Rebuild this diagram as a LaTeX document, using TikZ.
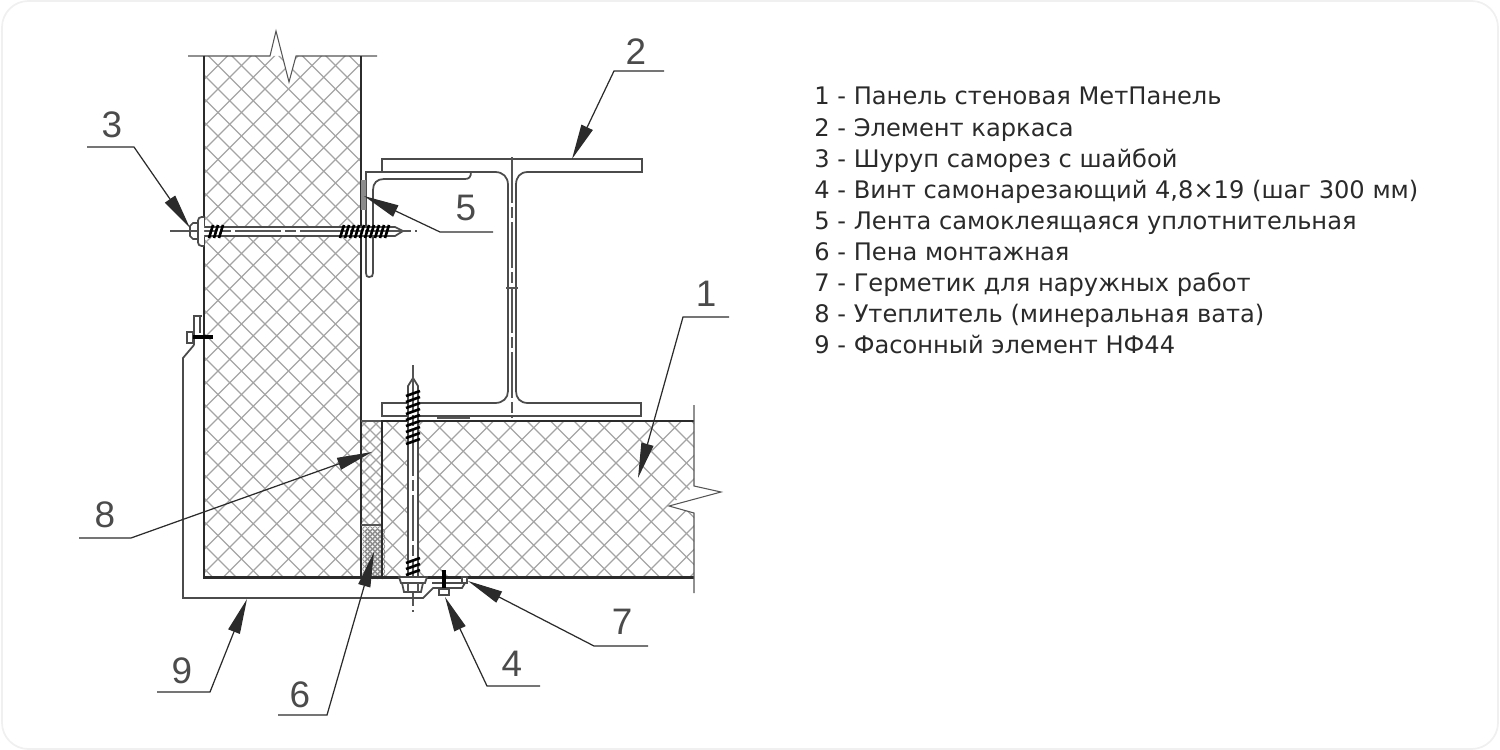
\documentclass[tikz,border=0pt]{standalone}
\usepackage{fontspec}
\setmainfont{DejaVu Sans}
\newfontfamily\calloutfont{Liberation Sans}
\usetikzlibrary{arrows.meta}
\definecolor{inkcolor}{HTML}{2B2B2B}
\definecolor{hatchcolor}{HTML}{A4A4A4}
\definecolor{textcolor}{HTML}{2A2A2A}
\newcommand{\hatchfield}[3]{
	\foreach \k in {-45,...,45} {
		\draw[hatchline] ({#1+\k*#3-900},900) -- ({#1+\k*#3},0);
		\draw[hatchline] ({#2+\k*#3},0) -- ({#2+\k*#3+900},900);
	}
}
\tikzset{
	wall/.style={line width=1.7pt,color=inkcolor},
	profile/.style={line width=1pt,color=inkcolor!85},
	hairline/.style={line width=0.6pt,color=inkcolor!80},
	hatchline/.style={line width=0.75pt,color=hatchcolor},
	thread/.style={line width=1.5pt,color=black},
	axisline/.style={line width=0.6pt,color=inkcolor!80,dash pattern=on 26pt off 2.5pt on 6pt off 2.5pt},
	leader/.style={line width=0.7pt,color=inkcolor,-{Triangle[length=20pt,width=7pt]}},
	callout/.style={font=\calloutfont\fontsize{21}{21}\selectfont,color=inkcolor!85,inner sep=0pt},
	legend/.style={anchor=base west,inner sep=0pt,font=\fontsize{13.74}{16}\selectfont,color=textcolor}
}
\begin{document}
\begin{tikzpicture}[x=0.02cm,y=-0.02cm]
	\useasboundingbox (0,0) rectangle (1500,750);
	\draw[color=black!6,line width=1pt,rounded corners=15pt] (2,1) rectangle (1498,749);
	\begin{scope}
		\clip (204,56) -- (282,56) -- (289,82) -- (296,56) -- (361,56) -- (361,577) -- (204,577) -- cycle;
		\hatchfield{448}{82}{23.5}
	\end{scope}
	\begin{scope}
		\clip (382,421) -- (694,421) -- (694,486) -- (669,506) -- (694,513) -- (694,577) -- (382,577) -- cycle;
		\hatchfield{938}{-35}{23.5}
	\end{scope}
	\begin{scope}
		\clip (361,421) rectangle (382,525);
		\hatchfield{800}{-60}{12}
	\end{scope}
	\foreach \r in {0,...,9} {
		\foreach \k in {0,...,3} {
			\draw[hairline,line width=0.45pt,color=inkcolor!55] (365+\k*5,529+\r*5) circle (2.3);
			\draw[hairline,line width=0.45pt,color=inkcolor!55] (367.5+\k*5,531.5+\r*5) circle (2.3);
		}
	}
	% panels
	\draw[hairline] (188,56) -- (270,56) -- (276,31) -- (289,82) -- (296,56) -- (377,56);
	\draw[wall] (204,56) -- (204,577) -- (361,577) -- (361,56);
	\draw[hairline] (361,421) -- (382,421);
	\draw[hairline] (361,525) -- (382,525);
	\draw[wall] (694,421) -- (382,421) -- (382,577) -- (694,577);
	\draw[wall] (361,577) -- (382,577);
	\draw[hairline] (694,405) -- (694,486) -- (721,492) -- (669,506) -- (694,513) -- (694,593);
	% beam
	\draw[profile] (495,172) -- (382,172) -- (382,159) -- (642,159) -- (642,172) -- (528,172) .. controls (520,172) and (516,177) .. (516,185) -- (516,391) .. controls (516,398) and (520,403) .. (528,403) -- (641,403) -- (641,416) -- (382,416) -- (382,403) -- (495,403) .. controls (503,403) and (508,398) .. (508,391) -- (508,185) .. controls (508,177) and (503,172) .. (495,172);
	\draw[axisline] (512,157) -- (512,418);
	\draw[hairline] (506,288) -- (518,288);
	\draw[hairline] (437,418) -- (470,418);
	% bracket
	\draw[profile] (382,172) -- (366,172) -- (366,273) .. controls (366,276) and (367,277) .. (369,277) .. controls (372,277) and (373,276) .. (373,273) -- (373,190) .. controls (373,183) and (377,179) .. (384,179) -- (465,179) .. controls (469,179) and (471,177) .. (471,172);
	\fill[hatchcolor!85!black] (361,180) rectangle (366,210);
	% screw three
	\fill[white] (204,227) rectangle (395,236);
	\draw[profile] (204,227) -- (395,227) -- (403,231) -- (395,236) -- (204,236);
	\draw[axisline] (170,231) -- (417,231);
	\draw[profile,fill=white] (190,226) -- (193,223) -- (198,223) -- (198,239) -- (193,239) -- (190,236) -- cycle;
	\draw[hairline] (190,231) -- (198,231);
	\draw[profile,fill=white,rounded corners=2pt] (204,217) -- (198,217) -- (198,246) -- (204,246);
	\foreach \x in {209,214,...,219} {
		\draw[thread] (\x,238) -- (\x+4,225);
	}
	\foreach \x in {340,345,...,385} {
		\draw[thread] (\x,238) -- (\x+4,225);
	}
	% screw four
	\fill[white] (408,386) rectangle (418,577);
	\draw[profile] (408,577) -- (408,386) -- (413,378) -- (418,386) -- (418,577);
	\draw[axisline] (413,365) -- (413,612);
	\foreach \y in {394,400,...,442} {
		\draw[thread] (406,\y+2) -- (420,\y-3);
	}
	\foreach \y in {561,567,573} {
		\draw[thread] (406,\y+2) -- (420,\y-3);
	}
	\draw[profile,fill=white] (399,577) -- (427,577) -- (425,583) -- (401,583) -- cycle;
	\draw[profile,fill=white] (402,583) -- (423,583) -- (421,592) -- (404,592) -- cycle;
	\draw[hairline] (408,583) -- (408,592);
	\draw[hairline] (418,583) -- (418,592);
	% flashing
	\draw[profile] (194,345) -- (194,316) -- (202,316);
	\draw[profile] (200,316) -- (200,333);
	\draw[profile] (194,345) -- (183,358) -- (183,598) -- (423,598) -- (433,588) -- (462,588) -- (465,583) -- (432,583);
	\draw[profile,fill=white] (462,577) rectangle (467,583);
	\draw[profile,fill=white] (187,332) rectangle (193,343);
	\draw[line width=2.4pt] (193,337) -- (213,337);
	\draw[line width=2.6pt] (444,570) -- (444,589);
	\draw[profile,fill=white] (439,589) rectangle (449,595);
	% callouts
	\node[callout] (labelone) at (706,294) {1};
	\node[callout] (labeltwo) at (636,52) {2};
	\node[callout] (labelthree) at (112,125) {3};
	\node[callout] (labelfour) at (512,664) {4};
	\node[callout] (labelfive) at (466,208) {5};
	\node[callout] (labelsix) at (300,695) {6};
	\node[callout] (labelseven) at (622,622) {7};
	\node[callout] (labeleight) at (105,515) {8};
	\node[callout] (labelnine) at (182,671) {9};
	\coordinate (shelfone) at (729,317);
	\coordinate (elbowone) at (683,317);
	\coordinate (tipone) at (638,478);
	\coordinate (shelftwo) at (664,71);
	\coordinate (elbowtwo) at (614,71);
	\coordinate (tiptwo) at (572,159);
	\coordinate (shelfthree) at (87,147);
	\coordinate (elbowthree) at (134,147);
	\coordinate (tipthree) at (190,228);
	\coordinate (shelffour) at (540,686);
	\coordinate (elbowfour) at (487,686);
	\coordinate (tipfour) at (445,597);
	\coordinate (shelffive) at (493,232);
	\coordinate (elbowfive) at (440,232);
	\coordinate (tipfive) at (364,196);
	\coordinate (shelfsix) at (278,715);
	\coordinate (elbowsix) at (327,715);
	\coordinate (tipsix) at (374,552);
	\coordinate (shelfseven) at (648,646);
	\coordinate (elbowseven) at (594,646);
	\coordinate (tipseven) at (468,581);
	\coordinate (shelfeight) at (79,538);
	\coordinate (elboweight) at (131,538);
	\coordinate (tipeight) at (372,452);
	\coordinate (shelfnine) at (157,692);
	\coordinate (elbownine) at (210,692);
	\coordinate (tipnine) at (247,599);
	\foreach \n in {one,two,three,four,five,six,seven,eight,nine} {
		\draw[leader] (shelf\n) -- (elbow\n) -- (tip\n);
	}
	% legend
	\node[legend] (itemone) at (814,105) {1 - Панель стеновая МетПанель};
	\node[legend] (itemtwo) at (814,136) {2 - Элемент каркаса};
	\node[legend] (itemthree) at (814,167) {3 - Шуруп саморез с шайбой};
	\node[legend] (itemfour) at (814,198) {4 - Винт самонарезающий 4,8×19 (шаг 300 мм)};
	\node[legend] (itemfive) at (814,229) {5 - Лента самоклеящаяся уплотнительная};
	\node[legend] (itemsix) at (814,260) {6 - Пена монтажная};
	\node[legend] (itemseven) at (814,291) {7 - Герметик для наружных работ};
	\node[legend] (itemeight) at (814,322) {8 - Утеплитель (минеральная вата)};
	\node[legend] (itemnine) at (814,353) {9 - Фасонный элемент НФ44};
\end{tikzpicture}
\end{document}
